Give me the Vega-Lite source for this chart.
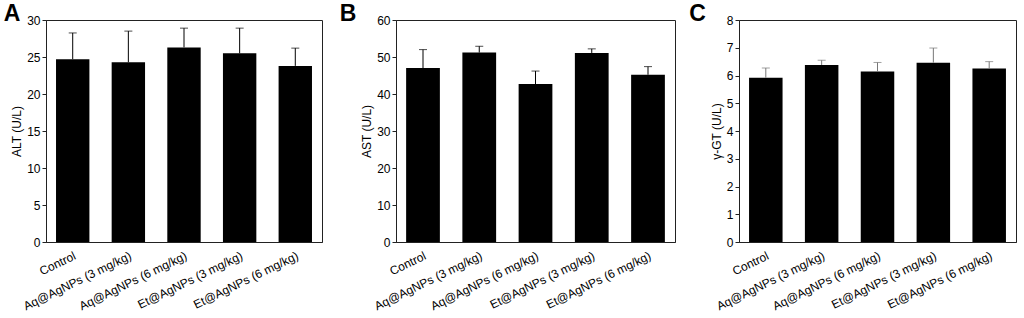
{
  "$schema": "https://vega.github.io/schema/vega-lite/v6.json",
  "padding": {"left": 3, "top": 2, "right": 0, "bottom": 0},
  "background": "white",
  "data": {
    "values": [
      {"group": "Control", "alt": 24.7, "alt_hi": 28.25, "ast": 47.0, "ast_hi": 52.0, "ggt": 5.92, "ggt_hi": 6.27},
      {"group": "Aq@AgNPs (3 mg/kg)", "alt": 24.3, "alt_hi": 28.5, "ast": 51.2, "ast_hi": 52.9, "ggt": 6.38, "ggt_hi": 6.55},
      {"group": "Aq@AgNPs (6 mg/kg)", "alt": 26.3, "alt_hi": 28.9, "ast": 42.7, "ast_hi": 46.2, "ggt": 6.14, "ggt_hi": 6.47},
      {"group": "Et@AgNPs (3 mg/kg)", "alt": 25.5, "alt_hi": 28.9, "ast": 51.1, "ast_hi": 52.2, "ggt": 6.46, "ggt_hi": 6.99},
      {"group": "Et@AgNPs (6 mg/kg)", "alt": 23.8, "alt_hi": 26.2, "ast": 45.2, "ast_hi": 47.4, "ggt": 6.25, "ggt_hi": 6.5}
    ]
  },
  "config": {
    "font": "Liberation Sans",
    "view": {"stroke": "#222", "strokeWidth": 1},
    "axis": {
      "labelFont": "Liberation Sans", "labelFontSize": 12, "labelColor": "#000", "labelOverlap": false,
      "titleFont": "Liberation Sans", "titleFontSize": 12, "titleFontWeight": "normal", "titleColor": "#000",
      "domainColor": "#222", "tickColor": "#222", "grid": false
    },
    "axisX": {"labelAngle": -26, "ticks": false, "title": null, "labelPadding": 8},
    "axisY": {"tickSize": 4, "labelPadding": 2, "titlePadding": 3},
    "title": {"anchor": "start", "fontSize": 23, "fontWeight": "bold", "font": "Liberation Sans", "frame": "bounds", "color": "#000", "offset": -12}
  },
  "spacing": 16,
  "hconcat": [
    {
      "title": {"text": "A", "dx": -7},
      "width": 276, "height": 222,
      "encoding": {
        "x": {"field": "group", "type": "nominal", "sort": null, "scale": {"paddingInner": 0.4, "paddingOuter": 0.18}},
        "y": {"type": "quantitative", "scale": {"domain": [0, 30], "nice": false}, "axis": {"values": [0, 5, 10, 15, 20, 25, 30], "labelOverlap": false, "title": "ALT (U/L)"}}
      },
      "layer": [
        {"mark": {"type": "bar", "color": "#000"}, "encoding": {"y": {"field": "alt", "type": "quantitative", "title": "ALT (U/L)"}}},
        {"mark": {"type": "rule", "color": "#000", "strokeWidth": 1}, "encoding": {"y": {"field": "alt", "type": "quantitative", "title": "ALT (U/L)"}, "y2": {"field": "alt_hi"}}},
        {"mark": {"type": "tick", "color": "#000", "size": 8, "thickness": 1}, "encoding": {"y": {"field": "alt_hi", "type": "quantitative", "title": "ALT (U/L)"}}}
      ]
    },
    {
      "spacing": 12,
      "hconcat": [
        {
          "title": {"text": "B", "dx": -21},
          "width": 279, "height": 222,
          "encoding": {
            "x": {"field": "group", "type": "nominal", "sort": null, "scale": {"paddingInner": 0.4, "paddingOuter": 0.18}},
            "y": {"type": "quantitative", "scale": {"domain": [0, 60], "nice": false}, "axis": {"values": [0, 10, 20, 30, 40, 50, 60], "labelOverlap": false, "title": "AST (U/L)"}}
          },
          "layer": [
            {"mark": {"type": "bar", "color": "#000"}, "encoding": {"y": {"field": "ast", "type": "quantitative", "title": "AST (U/L)"}}},
            {"mark": {"type": "rule", "color": "#000", "strokeWidth": 1}, "encoding": {"y": {"field": "ast", "type": "quantitative", "title": "AST (U/L)"}, "y2": {"field": "ast_hi"}}},
            {"mark": {"type": "tick", "color": "#000", "size": 8, "thickness": 1}, "encoding": {"y": {"field": "ast_hi", "type": "quantitative", "title": "AST (U/L)"}}}
          ]
        },
        {
          "title": {"text": "C", "dx": -21},
          "width": 277, "height": 222,
          "encoding": {
            "x": {"field": "group", "type": "nominal", "sort": null, "scale": {"paddingInner": 0.4, "paddingOuter": 0.18}},
            "y": {"type": "quantitative", "scale": {"domain": [0, 8], "nice": false}, "axis": {"values": [0, 1, 2, 3, 4, 5, 6, 7, 8], "labelOverlap": false, "title": "γ-GT (U/L)"}}
          },
          "layer": [
            {"mark": {"type": "bar", "color": "#000"}, "encoding": {"y": {"field": "ggt", "type": "quantitative", "title": "γ-GT (U/L)"}}},
            {"mark": {"type": "rule", "color": "#777", "strokeWidth": 1}, "encoding": {"y": {"field": "ggt", "type": "quantitative", "title": "γ-GT (U/L)"}, "y2": {"field": "ggt_hi"}}},
            {"mark": {"type": "tick", "color": "#777", "size": 8, "thickness": 1}, "encoding": {"y": {"field": "ggt_hi", "type": "quantitative", "title": "γ-GT (U/L)"}}}
          ]
        }
      ]
    }
  ]
}
